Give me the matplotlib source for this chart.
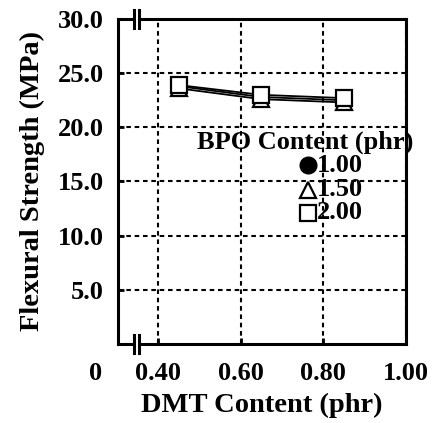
import matplotlib
matplotlib.use("Agg")
import matplotlib.pyplot as plt
import matplotlib.transforms as mtransforms

plt.rcParams['font.family'] = ['Liberation Serif', 'DejaVu Serif']
plt.rcParams['font.weight'] = 'bold'

# data
dmt = [0.45, 0.65, 0.85]
bpo_labels = ['1.00', '1.50', '2.00']
flex_100 = [23.8, 22.8, 22.5]
flex_150 = [23.6, 22.6, 22.3]
flex_200 = [23.9, 23.0, 22.7]
xticks = [0.4, 0.6, 0.8, 1.0]
xticklabels = ['0.40', '0.60', '0.80', '1.00']
yticks = [5, 10, 15, 20, 25, 30]
yticklabels = ['5.0', '10.0', '15.0', '20.0', '25.0', '30.0']

fig = plt.figure(figsize=(4.35, 4.23), dpi=100)
ax = fig.add_axes([0.271, 0.187, 0.662, 0.768])

styles = [
    dict(marker='o', ms=10, mfc='k', mec='k'),
    dict(marker='^', ms=11, mfc='white', mec='k', mew=1.6),
    dict(marker='s', ms=11, mfc='white', mec='k', mew=1.6),
]
for i, vals in enumerate([flex_100, flex_150, flex_200]):
    ax.plot(dmt, vals, color='k', lw=1.3, zorder=3 + i, **styles[i])

ax.set_xlim(0.303, 1.0)
ax.set_ylim(0, 30)
ax.set_xticks(xticks)
ax.set_xticklabels(xticklabels)
ax.set_yticks(yticks)
ax.set_yticklabels(yticklabels)
ax.tick_params(direction='in', length=4, width=2, labelsize=19, pad=10)
ax.tick_params(axis='x', pad=13)
ax.grid(True, color='k', ls=(0, (2.2, 1.8)), lw=1.5)
for s in ax.spines.values():
    s.set_linewidth(2.2)

# "0" label at the far left of the broken x axis
tr, va, ha = ax.get_xaxis_text1_transform(13)
ax.text(0.25, 0, '0', transform=tr, va=va, ha='center', fontsize=19,
        fontweight='bold')

# axis break marks on top and bottom spines
bt = mtransforms.blended_transform_factory(ax.transData, ax.transAxes)
for yb in (0, 1):
    ax.fill_between([0.343, 0.355], yb - 0.012, yb + 0.012, color='white',
                    transform=bt, clip_on=False, zorder=10, lw=0)
    for xb in (0.343, 0.355):
        ax.plot([xb, xb], [yb - 0.028, yb + 0.028], color='k', lw=2.2,
                transform=bt, clip_on=False, zorder=11)

ax.set_xlabel('DMT Content (phr)', fontsize=20.5, fontweight='bold',
              labelpad=6)
ax.set_ylabel('Flexural Strength (MPa)', fontsize=20.5, fontweight='bold',
              labelpad=9)

# legend, placed by hand
ax.text(0.65, 0.62, 'BPO Content (phr)', transform=ax.transAxes,
        ha='center', va='center', fontsize=19, fontweight='bold', zorder=12)
leg_y = [0.55, 0.474, 0.403]
for i, lab in enumerate(bpo_labels):
    st = dict(styles[i])
    st['ms'] = 12
    ax.plot([0.66], [leg_y[i]], transform=ax.transAxes, ls='none',
            zorder=12, **st)
    ax.text(0.69, leg_y[i], lab, transform=ax.transAxes, ha='left',
            va='center', fontsize=19, fontweight='bold', zorder=12)

fig.savefig('out.png', dpi=100)
